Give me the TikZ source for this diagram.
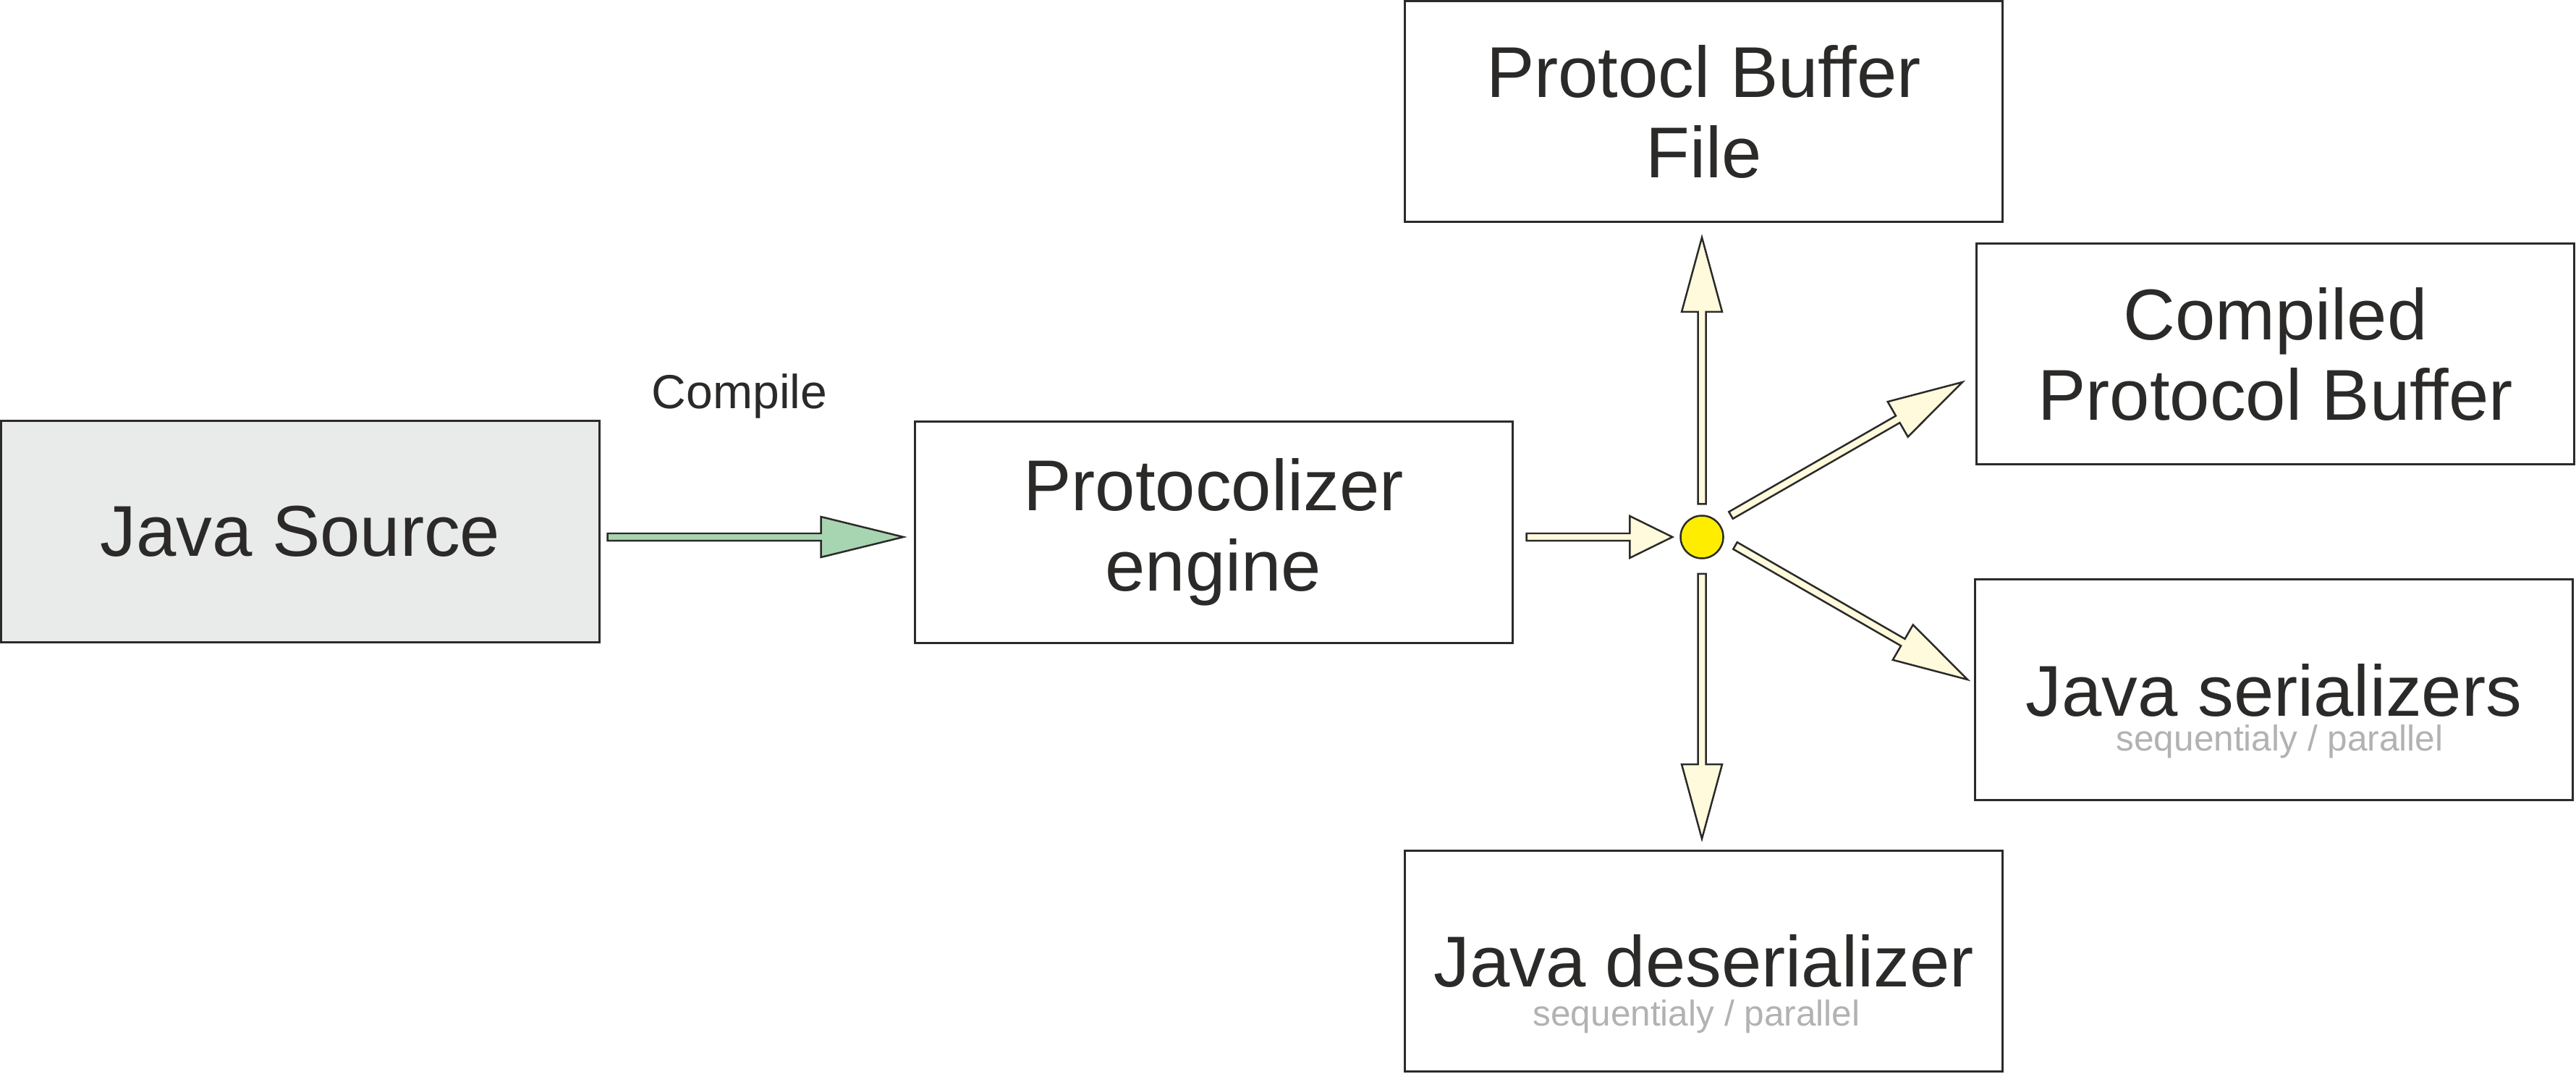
\documentclass[tikz,border=0pt]{standalone}
\usepackage{fontspec}
\setmainfont{Liberation Sans}
\usetikzlibrary{calc}
\definecolor{ink}{HTML}{2B2A29}
\definecolor{srcfill}{HTML}{E9EBEA}
\definecolor{greenfill}{HTML}{A8D5B1}
\definecolor{creamfill}{HTML}{FFFADC}
\definecolor{hubfill}{HTML}{FFED00}
\definecolor{subgray}{HTML}{B2B2B2}
\tikzset{
  box/.style={draw=ink, line width=0.03cm, fill=white, minimum width=8.26cm, minimum height=3.05cm,
    inner sep=0pt, align=center, text=ink, font=\fontsize{28.3}{31.6}\selectfont},
  maintext/.style={anchor=base, inner sep=0pt, text=ink, font=\fontsize{28.3}{31.6}\selectfont},
  subtext/.style={anchor=base, inner sep=0pt, text=subgray, font=\fontsize{14.1}{16}\selectfont},
  lbl/.style={anchor=base, inner sep=0pt, text=ink, font=\fontsize{18.8}{22}\selectfont},
  hub/.style={circle, draw=ink, line width=0.025cm, fill=hubfill, minimum size=0.59cm, inner sep=0pt},
  greenarrow/.style={draw=ink, line width=0.025cm, fill=greenfill},
  creamarrow/.style={draw=ink, line width=0.025cm, fill=creamfill},
}
% style, from, to, shaft half width, head length, head half width
\newcommand\blockarrow[6]{%
  \filldraw[#1] ($(#2)!#4!90:(#3)$) -- ($(#3)!#5!(#2)!#4!-90:(#2)$) -- ($(#3)!#5!(#2)!#6!-90:(#2)$)
    -- (#3) -- ($(#3)!#5!(#2)!#6!90:(#2)$) -- ($(#3)!#5!(#2)!#4!90:(#2)$) -- ($(#2)!#4!-90:(#3)$) -- cycle;}
\begin{document}
\begin{tikzpicture}
\useasboundingbox (0,0) rectangle (35.6,14.83);

% boxes
\node[box, fill=srcfill] (src) at (4.15,7.485) {Java Source};
\node[box] (eng) at (16.77,7.475) {Protocolizer\\engine};
\node[box] (pbf) at (23.545,13.29) {Protocl Buffer\\File};
\node[box] (cpb) at (31.445,9.935) {Compiled\\Protocol Buffer};
\node[box] (ser) at (31.425,5.30) {};
\node[maintext] (sert) at ($(ser.center)+(0,-0.36)$) {Java serializers};
\node[subtext] (sers) at ($(ser.center)+(0.08,-0.84)$) {sequentialy / parallel};
\node[box] (des) at (23.545,1.55) {};
\node[maintext] (dest) at ($(des.center)+(0,-0.35)$) {Java deserializer};
\node[subtext] (dess) at ($(des.center)+(-0.1,-0.89)$) {sequentialy / parallel};

% hub
\node[hub] (hub) at (23.52,7.41) {};

% label
\node[lbl] (compile) at (10.22,9.18) {Compile};

% connector ends
\coordinate (g1) at ($(src.east)+(0.10,-0.075)$);
\coordinate (g2) at ($(eng.west)+(-0.14,-0.065)$);
\coordinate (c1) at ($(eng.east)+(0.18,-0.065)$);
\coordinate (c2) at ($(hub.west)+(-0.10,0)$);
\coordinate (u1) at ($(hub.north)+(0,0.15)$);
\coordinate (u2) at ($(pbf.south)+(-0.025,-0.20)$);
\coordinate (d1) at ($(hub.south)+(0,-0.20)$);
\coordinate (d2) at ($(des.north)+(-0.025,0.15)$);
\coordinate (r1) at (23.92,7.71);
\coordinate (r2) at (27.12,9.55);
\coordinate (s1) at (23.98,7.29);
\coordinate (s2) at (27.19,5.44);

% connectors
\blockarrow{greenarrow}{g1}{g2}{0.05cm}{1.14cm}{0.28cm}
\blockarrow{creamarrow}{c1}{c2}{0.05cm}{0.59cm}{0.29cm}
\blockarrow{creamarrow}{u1}{u2}{0.055cm}{1.03cm}{0.28cm}
\blockarrow{creamarrow}{d1}{d2}{0.055cm}{1.03cm}{0.28cm}
\blockarrow{creamarrow}{r1}{r2}{0.055cm}{1.03cm}{0.28cm}
\blockarrow{creamarrow}{s1}{s2}{0.055cm}{1.03cm}{0.28cm}
\end{tikzpicture}
\end{document}
